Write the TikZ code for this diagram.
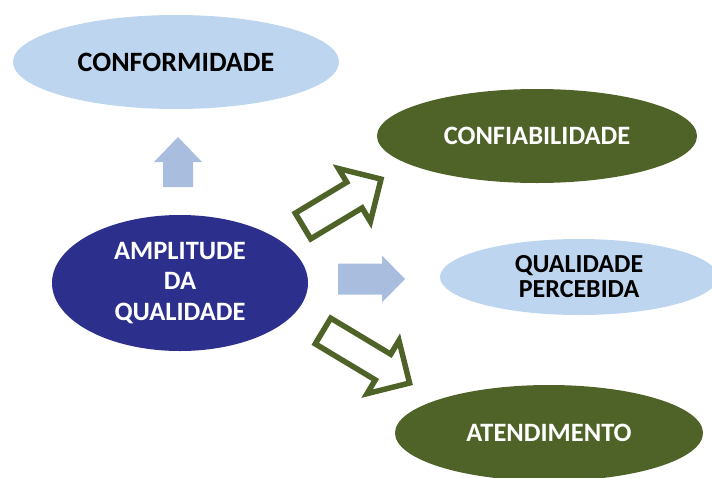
\documentclass[tikz,border=0pt]{standalone}
\usepackage{fontspec}
\setmainfont{Carlito}
\usetikzlibrary{shapes.geometric}
\begin{document}
\begin{tikzpicture}[x=1pt,y=-1pt,
  lightell/.style={ellipse, fill=lightfill, inner sep=0pt, text=black, align=center, font=\fontsize{26}{25}\selectfont\bfseries},
  darkell/.style={ellipse, inner sep=0pt, text=white, align=center, font=\fontsize{26.5}{30.5}\selectfont\bfseries},
  solidarrow/.style={fill=arrowblue, draw=none},
  outlinearrow/.style={draw=olivegreen, line width=5.5pt, fill=white, line join=miter},
]
\definecolor{lightfill}{HTML}{BDD5EE}
\definecolor{arrowblue}{HTML}{A9BEDF}
\definecolor{navyfill}{HTML}{2C2F8C}
\definecolor{olivegreen}{HTML}{4F6228}
\path[use as bounding box] (0,0) rectangle (712,477);
\begin{scope}
\clip (0,0) rectangle (712,477);
% ellipses
\node[lightell, font=\fontsize{28}{30}\selectfont\bfseries, minimum width=326pt, minimum height=94pt] (conf) at (176,62) {CONFORMIDADE};
\node[darkell, fill=navyfill, minimum width=256pt, minimum height=136pt] (ampl) at (180,283) {AMPLITUDE\\DA\\QUALIDADE};
\node[darkell, fill=olivegreen, minimum width=320pt, minimum height=94pt] (confi) at (537,136) {CONFIABILIDADE};
\node[lightell, minimum width=278pt, minimum height=76pt] (qual) at (579,277) {QUALIDADE\\PERCEBIDA};
\node[darkell, fill=olivegreen, minimum width=308pt, minimum height=96pt] (aten) at (549,433) {ATENDIMENTO};
% up arrow
\begin{scope}[shift={(178,187)}, rotate=90]
\path[solidarrow] (0,15) -- (25,15) -- (25,24) -- (50,0) -- (25,-24) -- (25,-15) -- (0,-15) -- cycle;
\end{scope}
% middle arrow
\begin{scope}[shift={(338,279)}]
\path[solidarrow] (0,-15.5) -- (44,-15.5) -- (44,-23.5) -- (67,0) -- (44,23.5) -- (44,15.5) -- (0,15.5) -- cycle;
\end{scope}
% upper outlined arrow
\begin{scope}[shift={(303,226)}, rotate=31]
\draw[outlinearrow] (0,-15) -- (60,-15) -- (60,-31) -- (91,0) -- (60,31) -- (60,15) -- (0,15) -- cycle;
\end{scope}
% lower outlined arrow
\begin{scope}[shift={(323,331)}, rotate=-31]
\draw[outlinearrow] (0,-15) -- (70,-15) -- (70,-31) -- (101,0) -- (70,31) -- (70,15) -- (0,15) -- cycle;
\end{scope}
\end{scope}
\end{tikzpicture}
\end{document}
